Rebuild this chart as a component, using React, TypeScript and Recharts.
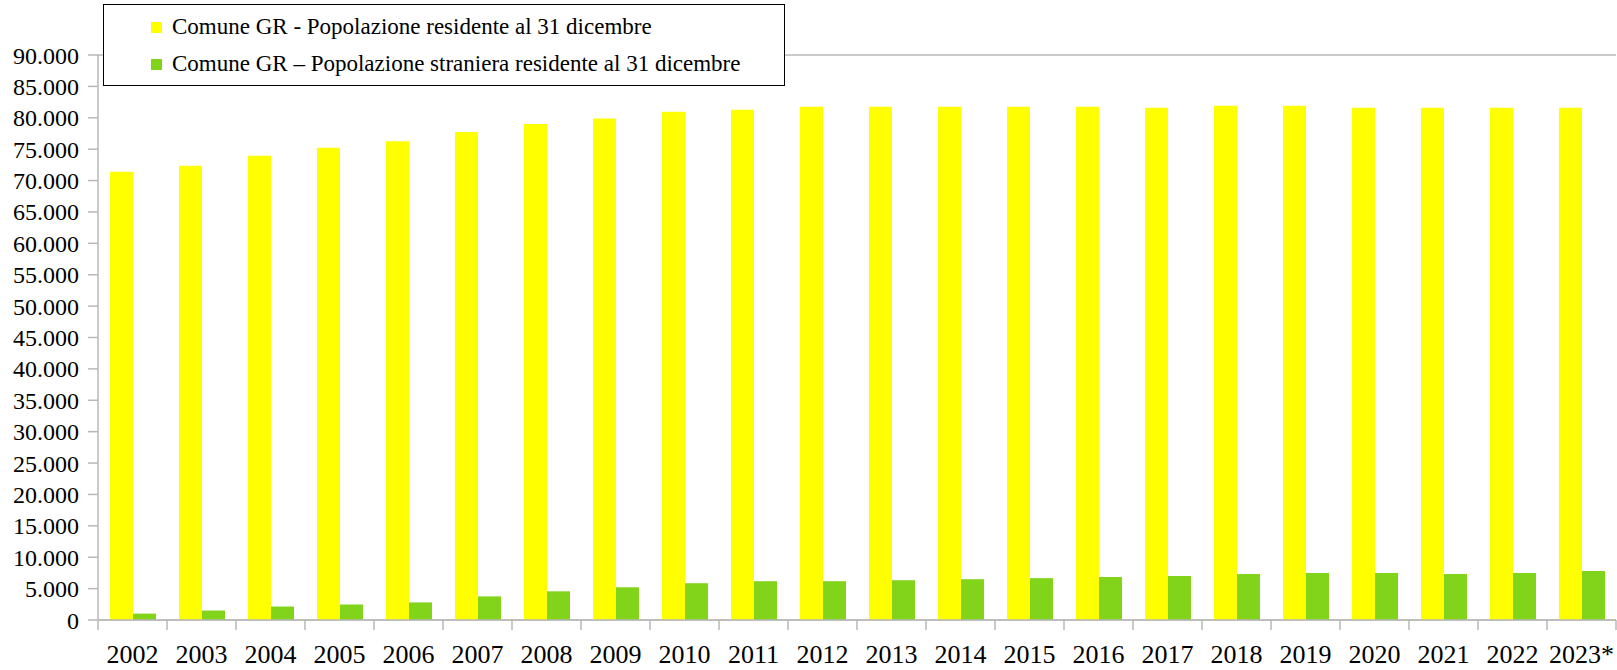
import React from 'react';
import { BarChart, Bar, XAxis, YAxis, CartesianGrid } from 'recharts';

const years = ['2002', '2003', '2004', '2005', '2006', '2007', '2008', '2009', '2010', '2011', '2012', '2013', '2014', '2015', '2016', '2017', '2018', '2019', '2020', '2021', '2022', '2023*'];
const residenti = [71390, 72350, 73960, 75240, 76280, 77730, 79010, 79900, 80960, 81280, 81760, 81760, 81760, 81760, 81760, 81600, 81930, 81930, 81600, 81600, 81600, 81600];
const stranieri = [1020, 1505, 2150, 2470, 2800, 3760, 4570, 5215, 5860, 6180, 6180, 6340, 6500, 6670, 6830, 6990, 7310, 7470, 7470, 7310, 7470, 7800];
const yTicks = [0, 5000, 10000, 15000, 20000, 25000, 30000, 35000, 40000, 45000, 50000, 55000, 60000, 65000, 70000, 75000, 80000, 85000, 90000];
const seriesNames = ['Comune GR - Popolazione residente al 31 dicembre', 'Comune GR \u2013 Popolazione straniera residente al 31 dicembre'];
const seriesColors = ['#FFFF00', '#81D41A'];

const data = years.map((y, i) => ({ year: y, residenti: residenti[i], stranieri: stranieri[i] }));

const FONT = '"Liberation Serif", "Times New Roman", serif';
const GRID = '#b8b8b8';

const fmt = (v: number) => String(v).replace(/\B(?=(\d{3})+(?!\d))/g, '.');

const XTick = (props: any) => {
  const { x, y, payload, index, width, visibleTicksCount } = props;
  const bw = width / visibleTicksCount;
  const top = y - 8;
  return (
    <g>
      <line x1={x - bw / 2} x2={x - bw / 2} y1={top} y2={top + 10} stroke={GRID} strokeWidth={1.5} />
      {index === visibleTicksCount - 1 && (
        <line x1={x + bw / 2} x2={x + bw / 2} y1={top} y2={top + 10} stroke={GRID} strokeWidth={1.5} />
      )}
      <text x={x} y={top + 43} textAnchor="middle" fontFamily={FONT} fontSize={26} fill="#000">
        {payload.value}
      </text>
    </g>
  );
};

export default function App() {
  return (
    <div style={{ position: 'absolute', left: 0, top: 0, width: 1617, height: 670, background: '#fff' }}>
      <BarChart
        width={1617}
        height={670}
        data={data}
        margin={{ top: 55, right: 1, left: 0, bottom: 0 }}
        barGap={0}
      >
        <CartesianGrid vertical={false} stroke={GRID} strokeWidth={1.5} />
        <XAxis
          dataKey="year"
          height={50}
          axisLine={{ stroke: GRID, strokeWidth: 1.5 }}
          tickLine={false}
          tick={<XTick />}
          interval={0}
        />
        <YAxis
          yAxisId="l"
          width={98}
          domain={[0, 90000]}
          ticks={yTicks}
          interval={0}
          tickFormatter={fmt}
          axisLine={{ stroke: GRID, strokeWidth: 1.5 }}
          tickLine={{ stroke: GRID, strokeWidth: 1.5 }}
          tickSize={10}
          tickMargin={9}
          tick={{ fontFamily: FONT, fontSize: 24, fill: '#000' }}
        />
        <YAxis
          yAxisId="r"
          orientation="right"
          width={0}
          domain={[0, 90000]}
          tick={false}
          tickLine={false}
          axisLine={{ stroke: GRID, strokeWidth: 1.5 }}
        />
        <Bar yAxisId="l" dataKey="residenti" fill={seriesColors[0]} barSize={23} isAnimationActive={false} />
        <Bar yAxisId="l" dataKey="stranieri" fill={seriesColors[1]} barSize={23} isAnimationActive={false} />
      </BarChart>
      <div
        style={{
          position: 'absolute',
          left: 103,
          top: 4,
          width: 682,
          height: 82,
          border: '1px solid #000',
          background: '#fff',
          fontFamily: FONT,
          fontSize: 23,
          color: '#000',
          boxSizing: 'border-box',
        }}
      >
        {seriesNames.map((n, i) => (
          <div
            key={n}
            style={{
              position: 'absolute',
              left: 47,
              top: i === 0 ? 4 : 41,
              height: 36,
              display: 'flex',
              alignItems: 'center',
              whiteSpace: 'nowrap',
            }}
          >
            <span style={{ display: 'inline-block', width: 11, height: 11, background: seriesColors[i], marginRight: 10 }} />
            <span>{n}</span>
          </div>
        ))}
      </div>
    </div>
  );
}
